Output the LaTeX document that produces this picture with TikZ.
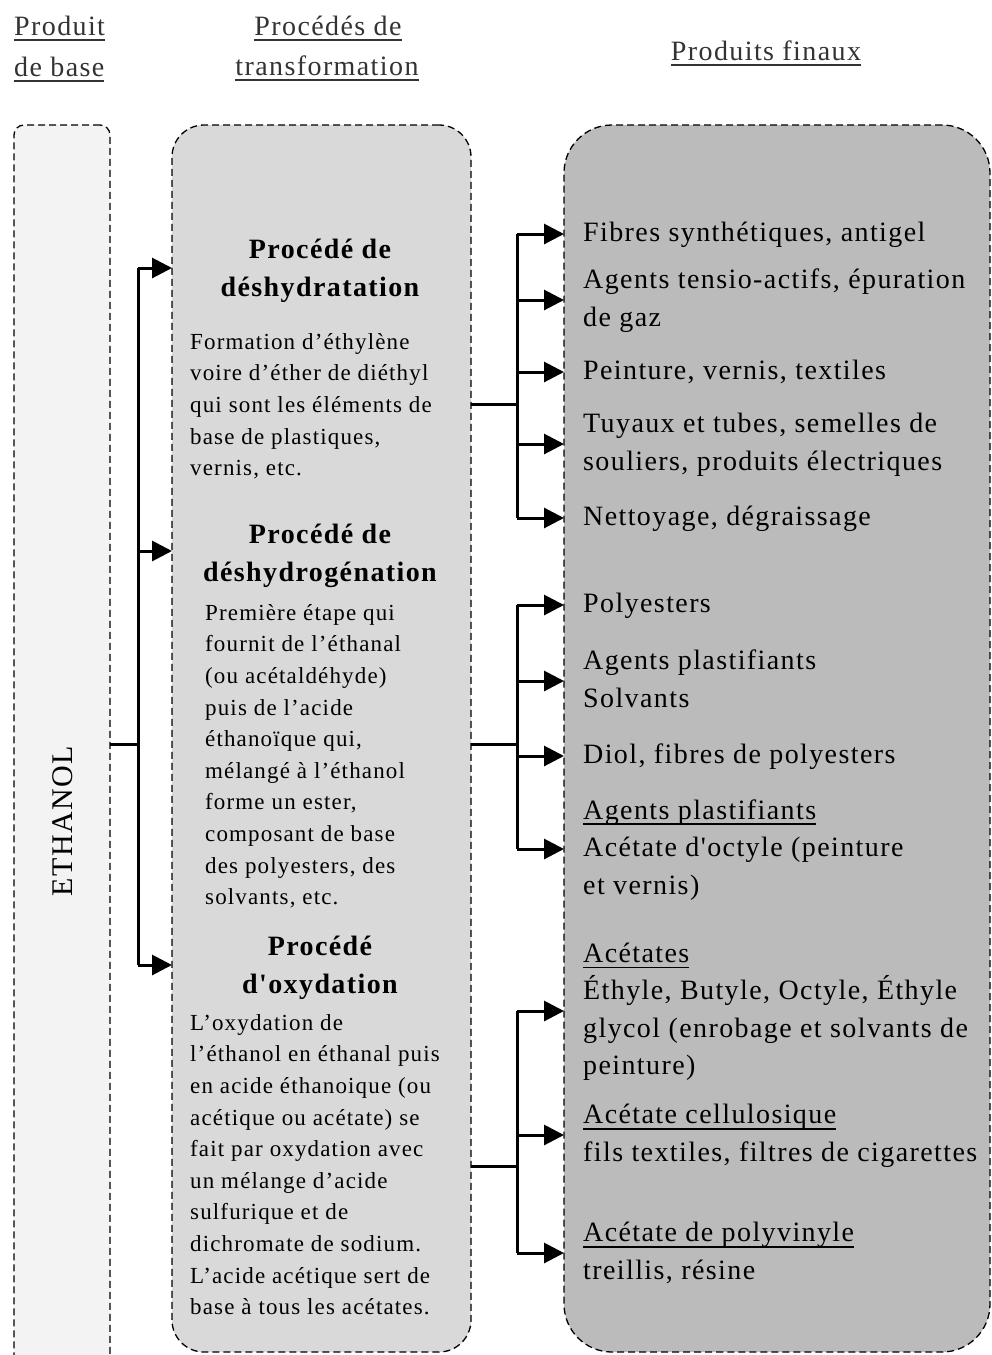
\documentclass[tikz,border=0pt]{standalone}
\usepackage{fontspec}
\setmainfont{Liberation Serif}
\newfontfamily\spaced{Liberation Serif}[LetterSpace=5]
\usetikzlibrary{arrows.meta}

\definecolor{basefill}{HTML}{F3F3F3}
\definecolor{procfill}{HTML}{D9D9D9}
\definecolor{prodfill}{HTML}{BBBBBB}
\definecolor{headink}{HTML}{333333}

% text sizes
\newcommand\hdfont{\spaced\fontsize{28}{40}\selectfont}
\newcommand\itemfont{\spaced\fontsize{28}{37.5}\selectfont}
\newcommand\ttlfont{\spaced\bfseries\fontsize{28}{38}\selectfont}
\newcommand\bodyfont{\spaced\fontsize{23}{31.6}\selectfont}
\newcommand\ethfont{\spaced\fontsize{30}{36}\selectfont}

% underline set a little below the baseline
\newcommand\ulx[1]{\setbox0\hbox{#1}\rlap{\rule[-6pt]{\wd0}{1.6pt}}\box0}
% straight apostrophe
\newcommand\sq{{\addfontfeature{Ligatures=TeXOff}'}}

\tikzset{
  panel/.style={draw=black, line width=1.3pt, dash pattern=on 7pt off 4pt,
                inner sep=0pt, outer sep=0pt, anchor=north west},
  link/.style={line width=3pt},
  arr/.style={link, -{Triangle[length=20pt,width=20pt]}},
  hd/.style={font=\hdfont, text=headink, inner sep=0pt},
  item/.style={font=\itemfont, align=left, inner sep=0pt, anchor=west},
  ttl/.style={font=\ttlfont, align=center, inner sep=0pt, anchor=north},
  body/.style={font=\bodyfont, align=left, inner sep=0pt, anchor=north west},
}

\begin{document}
\begin{tikzpicture}[x=1pt,y=-1pt]
\fill[white] (0,0) rectangle (992,1355);
\clip (0,0) rectangle (992,1355);

% column headings
\node[hd, anchor=base west] (h1a) at (14,35) {\ulx{Produit}};
\node[hd, anchor=base west] (h1b) at (14,76) {\ulx{de base}};
\node[hd, anchor=base] (h2a) at (328,35) {\ulx{Procédés de}};
\node[hd, anchor=base] (h2b) at (327,75) {\ulx{transformation}};
\node[hd, anchor=base] (h3) at (766,60) {\ulx{Produits finaux}};

% the three columns
\node[panel, fill=basefill, rounded corners=10pt,
      minimum width=96pt, minimum height=1300pt] (base) at (14,125) {};
\node[panel, fill=procfill, rounded corners=32pt,
      minimum width=299pt, minimum height=1227pt] (mid) at (172,125) {};
\node[panel, fill=prodfill, rounded corners=48pt,
      minimum width=426pt, minimum height=1227pt] (prod) at (564,125) {};

\node[font=\ethfont, rotate=90, inner sep=0pt] (eth) at (63,821) {ETHANOL};

% processes
\node[ttl] (t1) at (320,232) {\strut Procédé de\\déshydratation};
\node[body] (b1) at (190,326.9) {\strut Formation d’éthylène\\
voire d’éther de diéthyl\\
qui sont les éléments de\\
base de plastiques,\\
vernis, etc.};

\node[ttl] (t2) at (320,516.5) {\strut Procédé de\\déshydrogénation};
\node[body] (b2) at (205,597.9) {\strut Première étape qui\\
fournit de l’éthanal\\
(ou acétaldéhyde)\\
puis de l’acide\\
éthanoïque qui,\\
mélangé à l’éthanol\\
forme un ester,\\
composant de base\\
des polyesters, des\\
solvants, etc.};

\node[ttl] (t3) at (320,929) {\strut Procédé\\d\sq oxydation};
\node[body] (b3) at (190,1007.9) {\strut L’oxydation de\\
l’éthanol en éthanal puis\\
en acide éthanoique (ou\\
acétique ou acétate) se\\
fait par oxydation avec\\
un mélange d’acide\\
sulfurique et de\\
dichromate de sodium.\\
L’acide acétique sert de\\
base à tous les acétates.};

% final products
\node[item] (p1) at (583,234) {\strut Fibres synthétiques, antigel\strut};
\node[item] (p2) at (583,300) {\strut Agents tensio-actifs, épuration\\de gaz\strut};
\node[item] (p3) at (583,372) {\strut Peinture, vernis, textiles\strut};
\node[item] (p4) at (583,444) {\strut Tuyaux et tubes, semelles de\\souliers, produits électriques\strut};
\node[item] (p5) at (583,518) {\strut Nettoyage, dégraissage\strut};

\node[item] (q1) at (583,605) {\strut Polyesters\strut};
\node[item] (q2) at (583,681) {\strut Agents plastifiants\\Solvants\strut};
\node[item] (q3) at (583,756) {\strut Diol, fibres de polyesters\strut};
\node[item] (q4) at (583,849) {\strut\ulx{Agents plastifiants}\\Acétate d\sq octyle (peinture\\et vernis)\strut};

\node[item] (r1) at (583,1011) {\strut\ulx{Acétates}\\Éthyle, Butyle, Octyle, Éthyle\\glycol (enrobage et solvants de\\peinture)\strut};
\node[item] (r2) at (583,1135) {\strut\ulx{Acétate cellulosique}\\fils textiles, filtres de cigarettes\strut};
\node[item] (r3) at (583,1253) {\strut\ulx{Acétate de polyvinyle}\\treillis, résine\strut};

% ethanol to processes
\coordinate (j0) at (138,744);
\coordinate (a1) at (138,268);
\coordinate (a2) at (138,551);
\coordinate (a3) at (138,965);
\draw[link] (j0 -| base.east) -- (j0);
\draw[link] (a1) -- (a3);
\draw[arr] (a1) -- (a1 -| mid.west);
\draw[arr] (a2) -- (a2 -| mid.west);
\draw[arr] (a3) -- (a3 -| mid.west);

% processes to products
\coordinate (k1) at (517,404);
\coordinate (k2) at (517,744);
\coordinate (k3) at (517,1166);

\draw[link] (k1 -| mid.east) -- (k1);
\draw[link] (k1 |- p1) -- (k1 |- p5);
\foreach \n in {p1,p2,p3,p4,p5}
  \draw[arr] (k1 |- \n) -- (prod.west |- \n);

\draw[link] (k2 -| mid.east) -- (k2);
\draw[link] (k2 |- q1) -- (k2 |- q4);
\foreach \n in {q1,q2,q3,q4}
  \draw[arr] (k2 |- \n) -- (prod.west |- \n);

\draw[link] (k3 -| mid.east) -- (k3);
\draw[link] (k3 |- r1) -- (k3 |- r3);
\foreach \n in {r1,r2,r3}
  \draw[arr] (k3 |- \n) -- (prod.west |- \n);
\end{tikzpicture}
\end{document}
